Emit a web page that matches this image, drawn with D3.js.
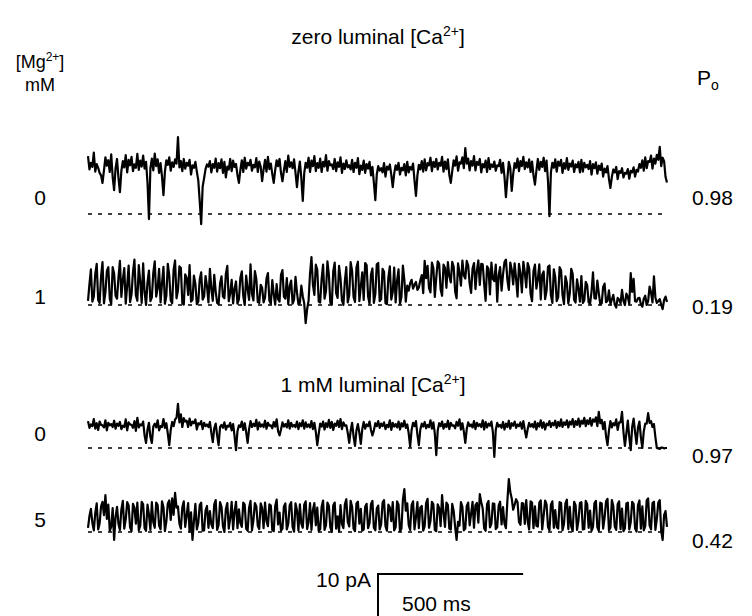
<!DOCTYPE html>
<html><head><meta charset="utf-8">
<script src="https://cdn.jsdelivr.net/npm/d3@7"></script>
<style>
body{margin:0;background:#fff;}
text{font-family:"Liberation Sans",Arial,sans-serif;fill:#000;}
</style></head>
<body>
<svg id="c" width="752" height="616"></svg>
<script>
// ---- data: currents in pA. Each trace is read as two sample sets,
// "A" at 0,10,20.. ms and "B" at 5,15,25.. ms ----
const zeroCaMg0_A = [
13.8,12.2,14.6,11.9,9.8,7.4,13.5,12.8,14.2,5.7,
13.1,5.2,12.6,14.0,12.9,13.6,11.8,14.3,12.7,13.9,
12.4,-1.2,13.2,14.4,13.0,12.1,4.5,12.8,13.5,12.3,
13.0,18.3,12.6,13.1,12.2,12.9,11.6,12.4,8.0,-2.4,
8.5,11.8,12.6,11.9,13.2,12.1,13.0,12.4,11.3,13.1,
12.7,11.9,7.4,12.8,13.4,12.2,12.9,11.7,13.3,12.5,
7.8,12.9,13.6,12.0,7.4,12.8,13.1,7.8,12.6,13.9,
12.3,13.0,6.4,12.5,3.1,12.2,13.4,12.7,13.8,12.1,
13.2,12.4,14.0,12.6,11.8,13.1,12.3,13.5,12.0,12.8,
11.6,12.9,12.2,13.3,11.5,12.7,11.9,12.4,11.2,3.3,
11.4,10.9,12.1,11.3,11.8,6.4,11.6,12.2,11.0,11.9,
12.4,11.2,12.0,4.3,11.7,12.6,13.0,12.1,13.4,12.4,
13.1,12.2,13.6,12.5,13.0,7.4,12.8,13.7,12.3,13.5,
15.7,13.2,12.6,13.8,12.4,13.1,11.9,12.7,13.3,11.8,
12.5,11.6,12.9,12.2,4.0,12.4,5.5,12.1,13.2,12.6,
13.6,12.3,13.0,12.5,7.0,13.1,12.4,13.4,12.7,-0.5,
12.2,13.0,12.5,12.9,12.1,13.3,12.0,12.7,11.8,12.4,
12.9,12.2,11.7,12.6,11.9,12.3,11.5,12.0,10.8,11.4,
6.2,10.6,11.2,10.2,10.9,9.8,10.7,10.3,11.1,10.5,
11.9,12.8,13.5,12.6,13.9,13.2,14.1,16.0,13.4,8.8];
const zeroCaMg0_B = [
10.6,11.2,10.1,11.0,9.2,10.4,11.5,10.0,8.8,10.9,
8.6,10.3,11.1,9.9,11.6,10.2,11.0,10.5,11.3,10.8,
7.5,10.9,10.4,11.4,9.8,8.9,10.1,11.7,10.3,11.2,
12.0,11.1,10.2,10.8,11.5,9.4,11.0,10.1,3.0,6.5,
10.7,11.3,9.9,11.0,10.1,10.9,9.8,8.7,10.6,10.2,
11.2,9.3,10.5,10.0,10.8,11.6,10.3,11.1,10.0,11.3,
10.6,10.1,10.7,9.5,10.5,11.4,9.8,10.4,10.0,11.2,
10.9,9.8,10.1,8.6,9.7,11.0,10.0,11.4,10.2,11.0,
10.0,11.3,10.3,11.6,10.7,10.2,11.2,9.8,10.7,11.1,
10.6,10.0,11.0,9.5,10.5,9.8,10.8,9.2,7.5,9.4,
10.3,9.9,8.9,10.6,9.3,9.6,10.5,9.4,10.4,9.2,
9.9,10.6,8.0,9.2,10.6,10.1,10.4,11.6,10.2,11.2,
10.6,11.5,10.1,10.7,9.3,10.2,11.5,10.3,12.0,10.9,
12.0,10.4,11.5,10.4,11.7,9.9,11.1,10.0,10.7,11.2,
10.3,11.4,9.8,8.9,8.5,11.0,9.5,11.0,10.2,11.4,
10.7,11.1,10.0,9.2,10.3,10.5,11.2,10.2,7.8,9.9,
11.0,10.1,11.5,9.8,10.8,10.5,11.3,10.0,11.1,9.9,
10.1,11.1,10.7,9.4,10.9,9.6,10.5,8.9,9.9,8.4,
8.8,9.9,8.3,9.8,8.7,9.6,8.4,9.9,8.9,10.1,
11.0,10.3,10.9,12.4,10.8,12.0,12.9,11.4,12.6,7.5];
const zeroCaMg1_A = [
1.0,8.5,2.0,9.8,0.5,10.2,3.0,9.0,0.2,7.5,
1.5,10.5,6.0,0.3,9.4,2.5,10.8,1.0,5.5,9.9,
0.0,8.2,1.8,10.4,4.0,0.6,9.1,2.2,7.0,0.4,
10.6,3.5,8.8,0.1,6.5,9.5,1.2,5.0,0.8,7.8,
2.0,4.5,8.6,1.0,3.2,0.2,6.8,1.6,9.3,2.8,
0.4,5.6,1.4,8.0,0.0,3.8,9.7,1.1,6.2,0.5,
4.1,1.8,7.6,0.3,2.6,5.0,0.8,8.3,1.5,0.2,
5.8,1.3,3.0,0.5,2.1,-4.3,1.0,11.4,2.4,8.4,
0.6,9.6,3.3,7.2,0.1,10.1,1.7,6.4,0.0,9.0,
2.3,8.1,0.7,10.3,4.4,1.2,9.5,0.3,8.7,2.6,
10.0,1.4,7.9,0.2,9.2,3.1,0.6,8.5,1.9,6.0,
4.6,5.2,3.9,5.5,4.2,7.1,10.5,9.3,3.0,8.8,
6.5,9.8,2.2,8.9,10.2,5.4,9.1,1.6,7.7,10.6,
6.3,9.4,2.9,10.0,8.2,4.8,9.7,1.0,8.6,10.1,
5.7,0.8,9.0,7.3,10.8,3.6,8.4,9.9,2.0,7.5,
10.3,4.2,8.8,0.9,9.6,6.1,1.3,8.0,3.4,9.4,
0.5,6.6,1.8,8.3,0.2,5.3,2.7,7.4,0.6,3.9,
6.9,1.1,4.7,0.3,7.8,1.5,2.8,0.4,5.1,1.0,
0.2,2.4,-0.6,1.3,3.6,0.0,1.9,7.6,6.2,0.8,
1.7,-0.4,2.2,0.9,3.0,6.8,0.5,1.4,-1.0,2.0];
const zeroCaMg1_B = [
5.0,0.8,7.4,1.2,6.8,0.4,8.1,1.5,9.0,2.2,
6.6,1.9,8.8,4.6,0.7,7.9,2.3,9.5,0.5,3.1,
5.4,0.9,7.7,2.0,8.6,5.2,0.3,9.8,1.1,8.4,
1.6,9.2,0.4,7.3,2.4,0.8,7.0,0.2,6.1,1.3,
6.9,0.6,3.8,7.2,0.5,5.1,2.0,7.4,0.9,6.0,
3.9,0.3,6.5,2.1,7.0,1.2,2.6,8.1,0.7,4.8,
0.6,6.3,1.0,5.9,0.1,1.4,7.2,2.0,6.4,4.5,
0.3,6.7,0.2,4.6,0.4,-1.0,7.5,4.8,9.6,0.8,
6.2,1.5,10.4,0.5,8.0,2.8,9.3,1.1,5.7,0.6,
10.2,1.9,8.9,0.9,7.8,10.0,2.1,7.2,0.5,9.7,
0.9,8.6,0.4,6.6,1.3,8.9,5.8,0.3,9.4,0.8,
3.4,6.0,4.8,3.6,5.9,2.8,6.4,4.0,10.1,1.9,
10.4,3.7,9.6,4.1,6.9,10.3,3.2,9.9,4.6,7.0,
10.5,5.1,8.7,3.8,10.6,9.8,5.0,9.2,2.5,6.2,
9.6,7.1,3.4,10.2,6.0,10.1,4.9,6.3,9.8,3.0,
7.8,10.0,2.6,8.1,3.9,9.7,7.2,1.4,9.1,2.3,
8.5,0.9,9.0,2.4,6.8,0.4,8.6,1.2,6.1,0.8,
0.5,5.5,0.6,3.2,1.6,5.8,0.2,4.3,0.7,3.5,
1.3,0.1,1.7,0.4,0.9,2.7,0.3,3.1,0.9,1.6,
0.2,1.5,0.0,4.4,0.6,1.8,0.9,0.1,1.2,0.7];
const ca1Mg0_A = [
6.4,5.6,6.9,5.9,6.3,5.4,6.6,6.0,5.7,6.5,
5.8,6.2,5.3,6.8,6.1,5.5,6.4,7.2,5.6,6.3,
1.2,6.0,1.2,5.8,6.6,5.2,6.9,5.9,0.7,6.2,
6.8,10.5,8.0,7.1,6.5,7.0,6.3,6.8,5.9,6.4,
6.0,5.6,6.2,1.4,5.8,0.7,5.5,6.1,5.3,6.0,
5.7,-0.5,5.4,6.3,5.9,1.2,6.4,5.8,6.7,6.1,
5.6,6.5,6.0,5.4,6.2,6.8,3.0,6.1,5.7,6.6,
6.0,5.5,6.3,5.9,6.6,6.1,5.6,6.4,6.0,0.7,
5.8,6.3,5.9,6.7,6.2,5.8,6.5,6.9,6.1,5.4,
1.2,6.0,0.5,5.7,1.0,6.2,5.6,6.3,3.0,5.9,
6.4,5.8,6.1,5.5,6.6,6.0,5.7,6.3,5.9,6.5,
5.6,0.3,6.0,6.4,0.7,5.8,6.2,5.5,6.6,6.1,
-1.7,5.9,6.3,5.7,6.5,6.0,5.4,6.2,6.8,5.9,
1.2,6.1,5.6,6.4,6.0,5.7,6.6,6.2,5.8,6.3,
-2.1,6.0,5.5,6.2,5.8,6.5,5.9,6.3,5.6,6.1,
6.4,2.5,6.0,5.7,6.3,5.9,6.6,6.1,5.8,6.4,
6.0,6.5,6.2,6.8,6.1,6.6,6.3,6.9,6.4,7.0,
6.5,7.2,6.6,7.1,6.8,7.3,8.6,6.7,6.2,0.7,
6.4,5.9,6.8,6.1,8.6,0.5,6.5,-0.5,7.0,1.0,
6.3,0.0,5.8,8.3,6.4,5.7,0.0,-0.2,0.1,0.0];
const ca1Mg0_B = [
4.8,5.2,4.6,4.3,5.5,4.9,4.2,5.4,5.0,4.6,
5.3,4.5,5.0,4.2,5.6,4.8,4.1,4.9,5.4,3.0,
4.4,2.6,5.1,4.9,4.2,5.0,4.8,3.4,4.3,5.2,
7.2,6.1,5.0,6.3,5.0,5.4,5.9,4.4,5.6,4.5,
5.2,5.0,3.6,4.7,3.0,5.0,4.8,4.4,5.1,4.2,
2.8,4.0,5.0,4.3,3.8,4.5,5.0,5.2,4.4,5.1,
5.0,4.6,5.3,4.7,5.1,4.0,4.4,5.1,4.9,4.6,
5.1,5.0,4.5,5.2,4.6,5.0,4.9,4.5,3.8,3.4,
5.1,4.4,5.0,4.8,4.3,5.3,5.0,4.5,5.3,3.6,
4.1,2.8,4.2,3.6,4.5,4.6,5.2,4.3,4.2,5.2,
4.8,5.2,4.5,5.0,4.3,5.1,4.9,4.4,5.1,4.8,
3.5,4.3,5.2,3.2,4.4,5.1,4.7,5.0,4.6,3.4,
4.2,5.2,4.6,5.0,4.5,5.3,4.7,5.3,4.4,3.9,
4.5,5.2,4.9,4.5,5.2,5.0,4.4,4.9,5.3,3.8,
4.3,5.1,4.8,4.4,5.0,4.6,5.3,4.8,5.2,4.6,
4.3,4.5,5.1,4.9,4.4,5.1,4.8,4.4,5.4,5.0,
5.4,4.8,5.2,5.0,5.5,4.9,5.6,5.0,5.5,5.1,
5.8,5.2,5.7,5.3,6.3,5.2,5.9,4.5,2.8,4.2,
4.9,5.4,4.3,6.1,3.8,3.5,2.6,5.0,3.8,4.8,
2.6,4.0,5.8,6.0,5.0,2.6,-0.1,0.1,-0.1,0.0];
const ca1Mg5_A = [
1.0,5.5,0.4,6.8,2.0,7.2,8.8,6.5,1.2,-1.9,
6.0,0.5,7.4,3.0,6.3,0.2,5.8,7.0,1.5,6.6,
0.3,4.2,7.1,1.0,6.4,0.6,5.9,2.5,7.5,8.0,
9.3,6.1,0.8,7.3,4.0,0.1,-1.9,6.7,2.2,7.0,
0.4,6.2,5.0,0.9,7.6,1.7,6.0,0.0,6.9,3.3,
0.6,7.2,5.4,1.2,6.5,0.3,7.4,2.8,6.1,0.7,
5.7,7.0,1.4,6.3,0.2,7.7,4.6,0.8,6.8,1.9,
7.1,0.1,5.2,6.6,1.0,7.3,2.4,0.5,6.9,5.8,
0.7,7.5,1.6,6.2,0.0,7.0,3.7,6.4,0.9,7.8,
1.3,6.0,0.2,7.2,5.5,0.6,6.7,2.1,7.4,0.4,
6.3,1.8,7.6,0.3,5.9,7.1,1.1,6.5,0.8,10.2,
6.8,0.5,7.3,3.5,0.9,6.2,1.4,7.9,2.6,6.6,
0.2,5.7,8.8,1.2,6.4,0.6,5.0,-1.9,1.5,6.0,
0.8,7.0,4.3,1.0,6.9,9.0,5.6,0.3,7.4,2.0,
6.7,1.1,7.2,5.9,0.9,12.6,8.0,6.5,7.1,1.7,
6.8,7.6,0.6,7.0,6.1,1.3,7.5,3.9,6.6,0.4,
7.3,5.2,0.8,6.9,1.9,7.7,6.0,0.2,6.4,2.8,
7.1,0.7,6.6,5.1,1.2,7.4,0.3,6.8,3.4,7.9,
1.0,6.2,0.5,7.3,5.6,0.9,7.0,2.3,6.7,0.1,
7.5,6.1,1.4,8.0,0.6,7.2,3.1,7.6,-1.9,5.0];
const ca1Mg5_B = [
3.8,2.2,4.5,0.6,6.1,4.0,3.1,0.3,5.7,3.6,
1.9,5.4,0.8,7.1,1.1,6.7,2.0,0.4,7.2,0.9,
6.5,0.5,2.3,7.0,1.5,7.3,0.2,6.8,2.9,4.1,
5.8,2.0,5.9,1.2,6.9,4.7,2.6,0.6,6.4,0.3,
5.1,1.0,1.8,6.6,0.5,7.1,1.4,5.5,0.8,7.2,
4.9,0.9,2.1,7.0,0.8,5.8,0.4,6.9,1.5,6.8,
0.9,2.6,6.6,0.5,6.2,1.8,0.3,6.1,0.6,6.4,
1.2,6.8,0.4,2.0,6.5,0.7,6.9,5.3,1.6,0.2,
6.0,0.5,7.0,1.1,6.3,0.8,0.2,1.9,6.6,2.4,
7.4,0.8,6.8,2.0,0.3,6.0,0.9,6.6,1.0,5.6,
0.6,7.0,1.4,6.5,2.6,0.4,7.3,0.2,7.7,5.1,
1.7,6.4,0.6,7.1,5.8,0.3,6.9,1.0,7.2,0.5,
6.6,1.4,4.6,7.0,0.8,6.7,1.2,2.4,7.1,0.4,
6.2,1.6,7.2,6.4,2.2,7.1,0.9,6.6,1.1,6.8,
0.7,6.3,1.8,2.0,7.4,9.5,5.3,7.8,2.4,6.9,
1.9,2.5,7.3,0.9,1.5,7.0,0.6,7.5,1.2,6.5,
1.0,1.2,7.1,0.4,6.8,0.7,1.3,7.2,0.5,6.9,
0.6,7.4,1.0,0.3,6.9,1.1,7.0,0.8,7.3,0.4,
7.6,1.3,6.6,0.7,0.2,6.8,0.6,7.2,0.9,6.4,
0.8,0.4,7.5,1.6,6.9,0.5,7.0,0.3,4.0,1.2];
const mgLabels = ["0","1","0","5"];
const poLabels = ["0.98","0.19","0.97","0.42"];
const scaleBarPA = 10, scaleBarMs = 500;
const sampleMs = 5;

// ---- build traces ----
function merge(a, b) { const out = []; a.forEach((v, i) => { out.push(v); out.push(b[i]); }); return out; }

const svg = d3.select("#c");
const x = d3.scaleLinear().domain([0, 1995]).range([88, 667]);
const pxPerPA = 4.2;
const FS = 21;
const traces = [
  {data: merge(zeroCaMg0_A, zeroCaMg0_B), base: 214, mg: mgLabels[0], mgY: 205, po: poLabels[0], poY: 205},
  {data: merge(zeroCaMg1_A, zeroCaMg1_B), base: 305, mg: mgLabels[1], mgY: 304, po: poLabels[1], poY: 314},
  {data: merge(ca1Mg0_A, ca1Mg0_B),       base: 448, mg: mgLabels[2], mgY: 441, po: poLabels[2], poY: 463},
  {data: merge(ca1Mg5_A, ca1Mg5_B),       base: 532, mg: mgLabels[3], mgY: 527, po: poLabels[3], poY: 548}
];

traces.forEach(t => {
  const y = d3.scaleLinear().domain([0, 10]).range([t.base, t.base - 10*pxPerPA]);
  svg.append("line").attr("x1", 88).attr("x2", 667).attr("y1", y(0)).attr("y2", y(0))
    .attr("stroke", "#000").attr("stroke-width", 1.6).attr("stroke-dasharray", "4,6");
  const line = d3.line().x((d,i) => x(i*sampleMs)).y(d => y(d));
  svg.append("path").datum(t.data).attr("d", line)
    .attr("fill", "none").attr("stroke", "#000").attr("stroke-width", 2.2)
    .attr("stroke-linejoin", "round");
  svg.append("text").attr("x", 40).attr("y", t.mgY).attr("text-anchor", "middle")
    .attr("font-size", FS).text(t.mg);
  svg.append("text").attr("x", 692).attr("y", t.poY)
    .attr("font-size", FS).text(t.po);
});

function caTitle(txt, cx, by) {
  const tx = svg.append("text").attr("x", cx).attr("y", by).attr("text-anchor", "middle").attr("font-size", FS);
  tx.append("tspan").text(txt + " [Ca");
  tx.append("tspan").attr("font-size", 14).attr("dy", -8).text("2+");
  tx.append("tspan").attr("dy", 8).text("]");
}
caTitle("zero luminal", 378, 44);
caTitle("1 mM luminal", 373, 392);

const mg = svg.append("text").attr("x", 40).attr("y", 68).attr("text-anchor", "middle").attr("font-size", 18);
mg.append("tspan").text("[Mg");
mg.append("tspan").attr("font-size", 12).attr("dy", -7).text("2+");
mg.append("tspan").attr("dy", 7).text("]");
svg.append("text").attr("x", 40).attr("y", 91).attr("text-anchor", "middle").attr("font-size", 18).text("mM");
const po = svg.append("text").attr("x", 697).attr("y", 85).attr("font-size", FS);
po.append("tspan").text("P");
po.append("tspan").attr("font-size", 14).attr("dy", 5).text("o");

// scale bar
const sbX = 378, sbY = 574;
const ySB = d3.scaleLinear().domain([0, scaleBarPA]).range([sbY, sbY + scaleBarPA*pxPerPA]);
svg.append("path")
  .attr("d", `M${x(scaleBarMs)-x(0)+sbX},${sbY}H${sbX}V${ySB(scaleBarPA)}`)
  .attr("fill", "none").attr("stroke", "#000").attr("stroke-width", 2);
svg.append("text").attr("x", 371).attr("y", 587).attr("text-anchor", "end").attr("font-size", FS).text(scaleBarPA + " pA");
svg.append("text").attr("x", 402).attr("y", 611).attr("font-size", FS).text(scaleBarMs + " ms");
</script>
</body></html>
